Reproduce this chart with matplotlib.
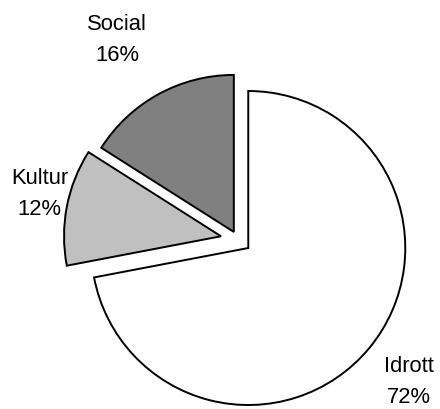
import matplotlib.pyplot as plt
import numpy as np

# andelar per kategori (medurs fran klockan 12)
kategorier = ['Idrott', 'Kultur', 'Social']
andel = [72, 12, 16]
farger = ['white', '#c0c0c0', '#808080']

explode = [0.085, 0.11, 0.055]
# etikettplacering i figurbrak (x, y)
etikett_pos = [(408.5 / 440, 1 - 382 / 409),
               (39.5 / 440, 1 - 194 / 409),
               (117 / 440, 1 - 40 / 409)]

R = 157.0            # pie radius in pixels
cx, cy = 238, 239.5  # pie centre in pixels (from top-left)
W, H = 440, 409

fig = plt.figure(figsize=(W / 100, H / 100), dpi=100)
ax = fig.add_axes([0, 0, 1, 1])

wedges, _ = ax.pie(andel, colors=farger, startangle=90, counterclock=False,
                   explode=explode, radius=1,
                   wedgeprops=dict(edgecolor='black', linewidth=1.4))

ax.set_xlim(-cx / R, (W - cx) / R)
ax.set_ylim(-(H - cy) / R, cy / R)
ax.set_aspect('equal')
ax.axis('off')

for namn, p, (x, y) in zip(kategorier, andel, etikett_pos):
    fig.text(x, y, f'{namn}\n{p}%', ha='center', va='center',
             fontsize=15.8, linespacing=1.62, family='Liberation Sans')

fig.savefig('out.png', dpi=100)
